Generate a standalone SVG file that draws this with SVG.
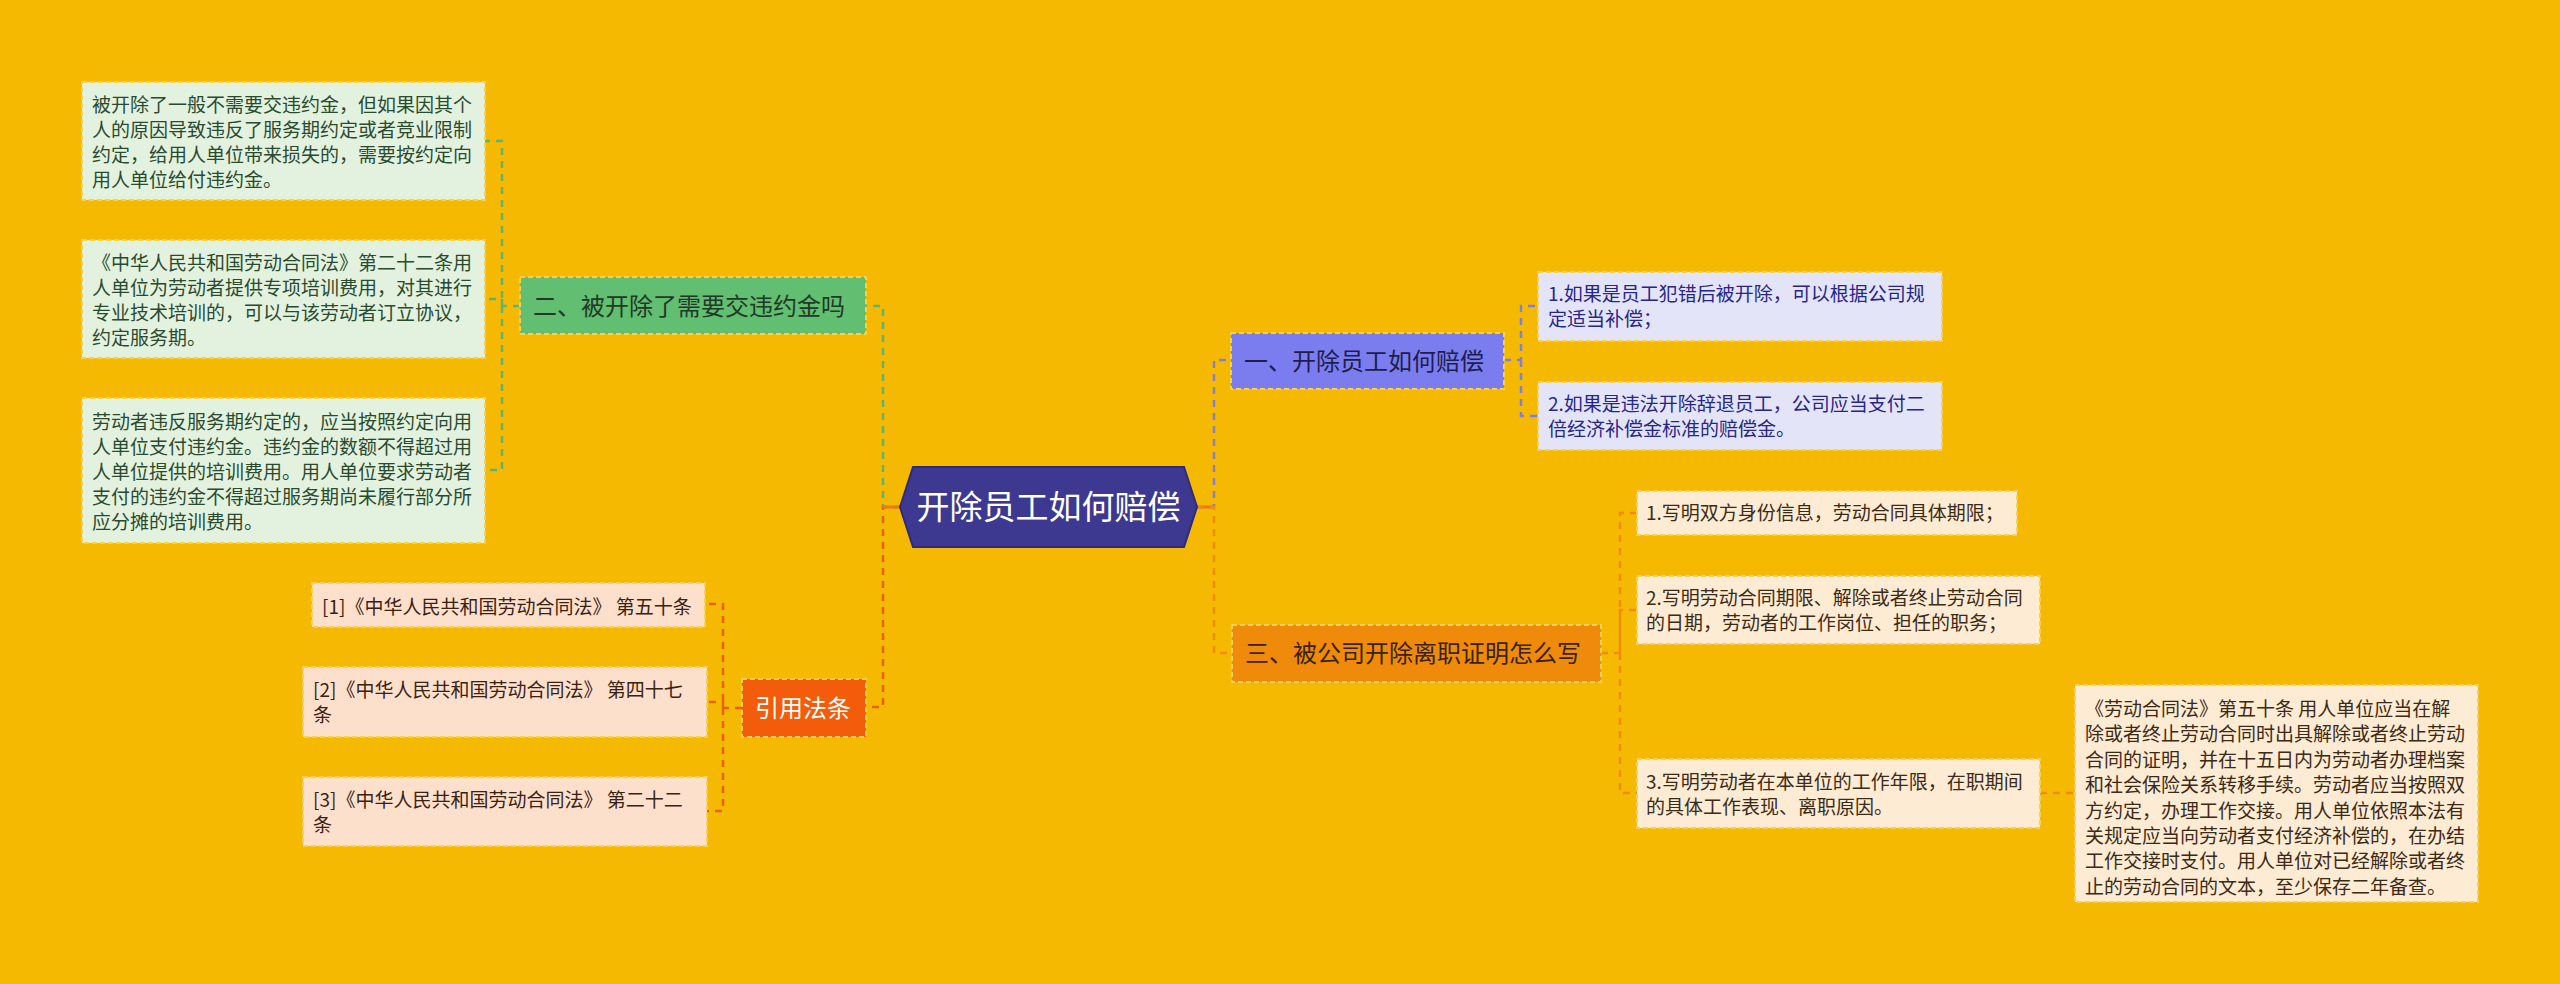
<svg xmlns="http://www.w3.org/2000/svg" width="2560" height="984" viewBox="0 0 2560 984">
<style>
text{font-family:"Noto Sans CJK SC","Noto Sans",sans-serif;}
.leaf{font-size:19px;}
.main{font-size:24px;}
.c{fill:none;stroke-width:2.5;stroke-dasharray:7 6;}
.box{stroke:#f8cf55;stroke-width:2;stroke-dasharray:5 3;}
.g{stroke:#58b679;}
.r{stroke:#e8620c;}
.p{stroke:#7f80dc;}
.o{stroke:#ef8d12;}
</style>
<rect width="2560" height="984" fill="#f6b901"/>
<g id="connectors">
  <path class="c g" d="M900 507 H883 V306 H866"/>
  <path class="c r" d="M900 507 H883 V707 H866"/>
  <path d="M883 507 H900 M1197 507 H1214" stroke="#ec7a12" stroke-width="3" fill="none"/>
  <path class="c p" d="M1197 507 H1214 V360 H1231"/>
  <path class="c o" d="M1197 507 H1214 V653 H1232"/>
  <path class="c g" d="M520 306 H502 V141 H485 M502 306 V299 H485 M502 306 V470 H485"/>
  <path class="c r" d="M742 708 H723 V604 H705 M723 708 V702 H707 M723 708 V811 H707"/>
  <path class="c p" d="M1504 360 H1521 V306 H1538 M1521 360 V416 H1538"/>
  <path class="c o" d="M1601 653 H1620 V513 H1637 M1620 653 V610 H1637 M1620 653 V793 H1637"/>
  <path class="c o" d="M2040 793 H2075"/>
</g>
<g id="center">
  <polygon points="900,507 913,467 1184,467 1197,507 1184,547 913,547" fill="#3d3890" stroke="#2f2b7a" stroke-width="2"/>
  <text x="1048.5" y="519" font-size="33" fill="#ffffff" text-anchor="middle">开除员工如何赔偿</text>
</g>
<g id="n2">
  <rect x="520" y="277" width="346" height="57" fill="#62be70" class="box"/>
  <text class="main" x="533" y="315" fill="#1f3a26">二、被开除了需要交违约金吗</text>
</g>
<g id="n2a">
  <rect x="82" y="82" width="403" height="118" fill="#e2f2df" class="box"/>
  <text class="leaf" fill="#2a4a2f"><tspan x="92" y="112">被开除了一般不需要交违约金，但如果因其个</tspan><tspan x="92" y="137">人的原因导致违反了服务期约定或者竞业限制</tspan><tspan x="92" y="162">约定，给用人单位带来损失的，需要按约定向</tspan><tspan x="92" y="187">用人单位给付违约金。</tspan></text>
</g>
<g id="n2b">
  <rect x="82" y="240" width="403" height="118" fill="#e2f2df" class="box"/>
  <text class="leaf" fill="#2a4a2f"><tspan x="92" y="270">《中华人民共和国劳动合同法》第二十二条用</tspan><tspan x="92" y="295">人单位为劳动者提供专项培训费用，对其进行</tspan><tspan x="92" y="320">专业技术培训的，可以与该劳动者订立协议，</tspan><tspan x="92" y="345">约定服务期。</tspan></text>
</g>
<g id="n2c">
  <rect x="82" y="398" width="403" height="145" fill="#e2f2df" class="box"/>
  <text class="leaf" fill="#2a4a2f"><tspan x="92" y="429">劳动者违反服务期约定的，应当按照约定向用</tspan><tspan x="92" y="454">人单位支付违约金。违约金的数额不得超过用</tspan><tspan x="92" y="479">人单位提供的培训费用。用人单位要求劳动者</tspan><tspan x="92" y="504">支付的违约金不得超过服务期尚未履行部分所</tspan><tspan x="92" y="529">应分摊的培训费用。</tspan></text>
</g>
<g id="ref">
  <rect x="742" y="679" width="124" height="58" fill="#f25c0a" class="box"/>
  <text class="main" x="755" y="717" fill="#ffffff">引用法条</text>
</g>
<g id="ref1">
  <rect x="312" y="583" width="393" height="44" fill="#fde0cc" class="box"/>
  <text class="leaf" x="322" y="614" fill="#3a2212">[1]《中华人民共和国劳动合同法》 第五十条</text>
</g>
<g id="ref2">
  <rect x="303" y="667" width="404" height="70" fill="#fde0cc" class="box"/>
  <text class="leaf" fill="#3a2212"><tspan x="313" y="697">[2]《中华人民共和国劳动合同法》 第四十七</tspan><tspan x="313" y="722">条</tspan></text>
</g>
<g id="ref3">
  <rect x="303" y="777" width="404" height="69" fill="#fde0cc" class="box"/>
  <text class="leaf" fill="#3a2212"><tspan x="313" y="807">[3]《中华人民共和国劳动合同法》 第二十二</tspan><tspan x="313" y="832">条</tspan></text>
</g>
<g id="n1">
  <rect x="1231" y="333" width="273" height="56" fill="#7b7def" class="box"/>
  <text class="main" x="1244" y="370" fill="#1d1d50">一、开除员工如何赔偿</text>
</g>
<g id="n1a">
  <rect x="1538" y="272" width="404" height="69" fill="#e4e4f8" class="box"/>
  <text class="leaf" fill="#26268a"><tspan x="1548" y="301">1.如果是员工犯错后被开除，可以根据公司规</tspan><tspan x="1548" y="326">定适当补偿；</tspan></text>
</g>
<g id="n1b">
  <rect x="1538" y="382" width="404" height="68" fill="#e4e4f8" class="box"/>
  <text class="leaf" fill="#26268a"><tspan x="1548" y="411">2.如果是违法开除辞退员工，公司应当支付二</tspan><tspan x="1548" y="436">倍经济补偿金标准的赔偿金。</tspan></text>
</g>
<g id="n3">
  <rect x="1232" y="625" width="369" height="57" fill="#f08a0b" class="box"/>
  <text class="main" x="1245" y="662" fill="#3a2204">三、被公司开除离职证明怎么写</text>
</g>
<g id="n3a">
  <rect x="1637" y="491" width="380" height="44" fill="#fdebd3" class="box"/>
  <text class="leaf" x="1646" y="520" fill="#3b2a16">1.写明双方身份信息，劳动合同具体期限；</text>
</g>
<g id="n3b">
  <rect x="1637" y="576" width="403" height="68" fill="#fdebd3" class="box"/>
  <text class="leaf" fill="#3b2a16"><tspan x="1646" y="605">2.写明劳动合同期限、解除或者终止劳动合同</tspan><tspan x="1646" y="630">的日期，劳动者的工作岗位、担任的职务；</tspan></text>
</g>
<g id="n3c">
  <rect x="1637" y="759" width="403" height="69" fill="#fdebd3" class="box"/>
  <text class="leaf" fill="#3b2a16"><tspan x="1646" y="789">3.写明劳动者在本单位的工作年限，在职期间</tspan><tspan x="1646" y="814">的具体工作表现、离职原因。</tspan></text>
</g>
<g id="n3c1">
  <rect x="2075" y="685" width="403" height="217" fill="#fdebd3" class="box"/>
  <text class="leaf" fill="#3b2a16"><tspan x="2085" y="716">《劳动合同法》第五十条 用人单位应当在解</tspan><tspan x="2085" y="741.4">除或者终止劳动合同时出具解除或者终止劳动</tspan><tspan x="2085" y="766.8">合同的证明，并在十五日内为劳动者办理档案</tspan><tspan x="2085" y="792.2">和社会保险关系转移手续。劳动者应当按照双</tspan><tspan x="2085" y="817.6">方约定，办理工作交接。用人单位依照本法有</tspan><tspan x="2085" y="843">关规定应当向劳动者支付经济补偿的，在办结</tspan><tspan x="2085" y="868.4">工作交接时支付。用人单位对已经解除或者终</tspan><tspan x="2085" y="893.8">止的劳动合同的文本，至少保存二年备查。</tspan></text>
</g>
</svg>
